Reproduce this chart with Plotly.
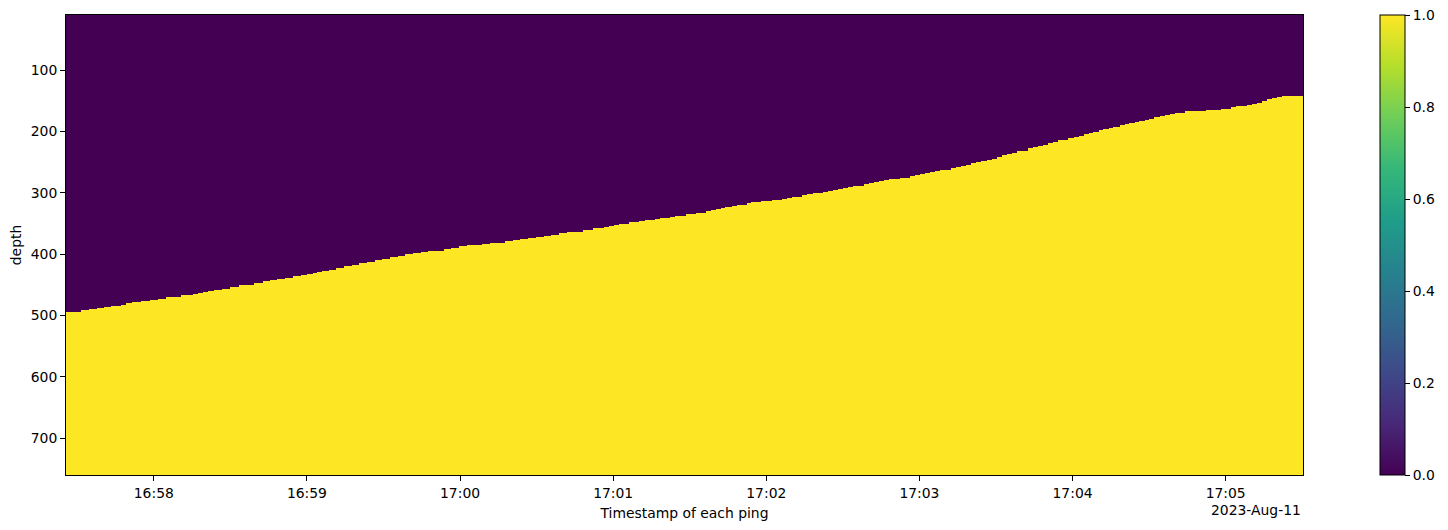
import numpy as np
import pandas as pd
import plotly.graph_objects as go

# ---- data ----
base_time = "2023-08-11 16:58:00"
# start of each ping (seconds relative to base_time); last value closes the final ping
ping_start_s = [-34.4, -28.7, -25.4, -22.4, -19.5, -16.8, -13.0, -10.9, -8.5, -5.1, -1.6, 1.6, 4.7, 7.4,
                10.6, 15.2, 17.2, 19.3, 21.1, 23.5, 26.6, 29.7, 33.2, 39.4, 42.6, 45.7, 48.2,
                51.6, 54.7, 57.5, 60.2, 62.2, 64.1, 66.1, 68.8, 71.5, 74.7, 77.8, 80.5, 83.7, 86.8, 89.5,
                92.6, 95.8, 98.5, 101.6, 104.8, 107.5, 110.6, 113.8, 116.5, 119.6, 122.7, 128.6,
                131.7, 137.6, 140.7, 143.5, 146.6, 149.7, 152.8, 155.6, 158.7, 161.8, 164.2, 168.1, 172.0,
                176.3, 178.3, 180.2, 182.2, 184.1, 186.1, 190.0, 192.3, 196.2, 198.2, 202.1, 204.1, 206.0,
                208.4, 212.3,
                216.2, 218.2, 220.1, 222.1, 224.0, 226.4, 228.4, 230.3, 232.3, 234.2, 238.1, 242.4, 246.3,
                248.3, 250.2, 252.1, 254.1, 256.0, 258.4, 262.3, 264.3, 266.2, 268.2, 270.1, 272.1, 274.0,
                276.4, 278.3, 280.3, 282.2, 284.2, 286.2, 288.1, 292.4, 294.4,
                296.3, 298.3, 300.2, 302.2, 304.1, 306.1, 308.0, 310.4, 312.3, 314.3, 316.2, 318.2, 320.2,
                322.1, 324.1, 326.4, 328.4, 330.3, 332.3, 334.2, 336.2, 338.1, 340.1, 342.4, 344.4, 346.3,
                348.3, 350.2, 352.2, 354.2, 356.1, 358.1, 360.4, 362.4, 364.3, 366.3, 368.2, 370.2, 372.1,
                374.1, 376.0,
                378.4, 380.4, 382.3, 384.3, 386.2, 388.2, 390.1, 392.1, 394.4, 396.4, 398.3, 400.3, 402.3,
                404.2, 412.4, 418.3, 422.2, 424.1, 428.4, 430.4, 432.4, 434.3, 436.3, 438.2, 440.2, 442.1]
ping_end_s = 450.3

# depth at which the mask switches to 1 for each ping
boundary_depth = [495, 491, 490, 488, 486, 485, 483, 480, 478, 477, 475, 473, 470, 469, 467, 465, 464, 462,
                  460, 459, 457, 454, 451, 447, 444, 442, 441,
                  438, 436, 434, 433, 431, 429, 428, 425, 423, 420, 418, 415, 413, 410, 408, 405, 403, 400,
                  398, 397, 395, 394, 392, 390, 387, 385, 384,
                  381, 379, 377, 376, 374, 372, 371, 369, 366, 364, 363, 361, 358, 356, 354, 353, 351, 350,
                  348, 346, 345, 343, 341, 340, 338, 337, 335, 333,
                  330, 328, 327, 325, 323, 322, 320, 319, 317, 315, 314, 312, 310, 309, 307, 306, 304, 302,
                  301, 299, 297, 296, 294, 292, 291, 289, 288, 286, 284, 283, 281, 279, 278, 276, 275,
                  273, 271, 270, 268, 266, 265, 263, 262, 260, 258, 257, 255, 252, 250, 248, 247, 244, 242,
                  239, 237, 235, 232, 231, 227, 226, 224, 222, 219, 217, 214, 213, 211, 209, 208, 204, 203,
                  200, 198, 196, 195, 193,
                  190, 188, 186, 185, 183, 182, 180, 177, 175, 173, 172, 170, 169, 167, 165, 164, 160, 159,
                  157, 155, 154, 151, 147, 146, 144, 142]

depth_min, depth_max = 10, 760
y_ticks = [100, 200, 300, 400, 500, 600, 700]
cbar_ticks = [0.0, 0.2, 0.4, 0.6, 0.8, 1.0]
date_label = "2023-Aug-11"

# ---- build the mask table ----
t0 = pd.Timestamp(base_time)
x_edges = [t0 + pd.Timedelta(seconds=s) for s in ping_start_s + [ping_end_s]]
y_edges = np.arange(depth_min, depth_max + 1, 1.0)
y_centers = (y_edges[:-1] + y_edges[1:]) / 2
z = (y_centers[:, None] >= np.array(boundary_depth)[None, :]).astype(int)

FONT = "DejaVu Sans"
fig = go.Figure(go.Heatmap(
    x=x_edges, y=y_edges, z=z,
    colorscale="Viridis", zmin=0, zmax=1, zsmooth=False,
    colorbar=dict(
        x=(1383 - 66) / 1240, xanchor="left", xpad=0, ypad=0,
        y=0.5, yanchor="middle", len=1, lenmode="fraction",
        thickness=25, thicknessmode="pixels",
        outlinewidth=1, outlinecolor="black",
        tickvals=cbar_ticks, ticktext=[f"{v:.1f}" for v in cbar_ticks],
        ticks="outside", ticklen=5, tickcolor="black",
        tickfont=dict(family=FONT, size=13.9, color="black"),
    ),
    showscale=True,
))

fig.update_layout(
    width=1448, height=530,
    margin=dict(l=66, r=142, t=15, b=53),
    paper_bgcolor="white", plot_bgcolor="white",
    font=dict(family=FONT, size=13.9, color="black"),
    xaxis=dict(
        type="date",
        range=[x_edges[0], x_edges[-1]],
        tickformat="%H:%M", dtick=60000,
        ticks="outside", ticklen=5, tickcolor="black",
        showline=True, linecolor="black", linewidth=1, mirror=True,
        showgrid=False, zeroline=False,
        title=dict(text="Timestamp of each ping", standoff=8,
                   font=dict(family=FONT, size=13.9)),
    ),
    yaxis=dict(
        range=[depth_max, depth_min],
        tickvals=y_ticks,
        ticks="outside", ticklen=5, tickcolor="black",
        showline=True, linecolor="black", linewidth=1, mirror=True,
        showgrid=False, zeroline=False,
        title=dict(text="depth", standoff=5, font=dict(family=FONT, size=13.9)),
    ),
    annotations=[dict(
        text=date_label, xref="paper", yref="paper", x=1, y=(477 - 512) / 462,
        xanchor="right", yanchor="middle", showarrow=False,
        font=dict(family=FONT, size=13.9, color="black"),
    )],
)

fig.write_html("out.html")
